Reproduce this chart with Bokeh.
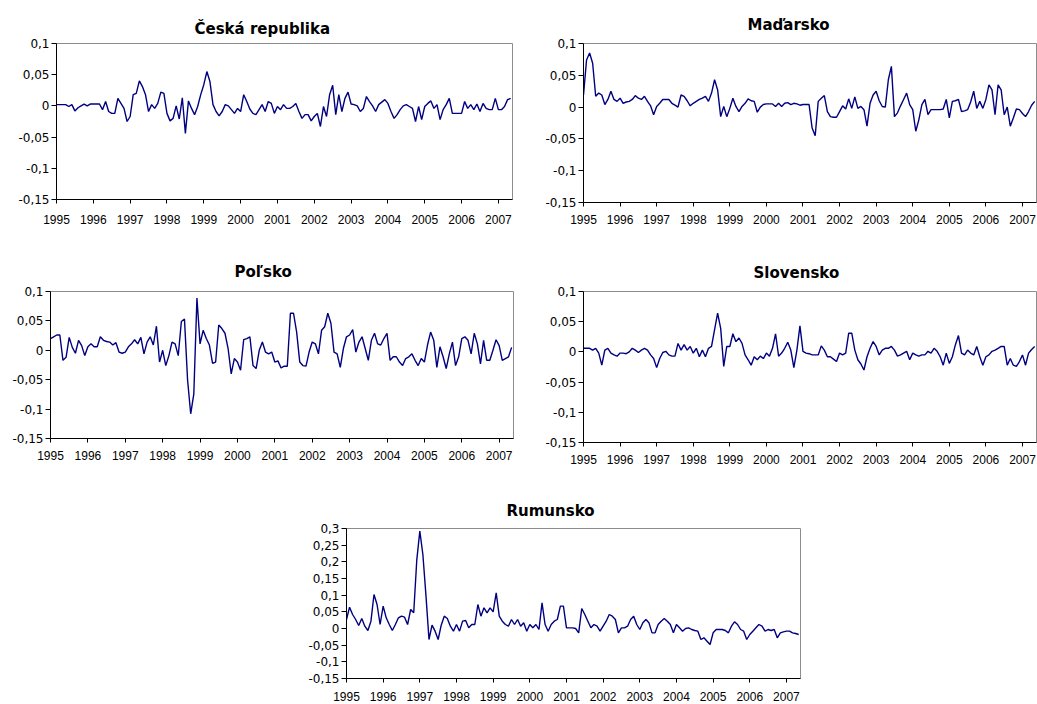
from bokeh.plotting import figure
from bokeh.layouts import column, row
from bokeh.models import FixedTicker, CustomJSTickFormatter, Range1d, Spacer
from bokeh.embed import file_html
from bokeh.resources import INLINE

# Monthly observations, January 1995 - May 2007
start_year = 1995
year_ticks = list(range(1995, 2008))

cz = [
    0.002, 0.002, 0.002, 0.002, -0.001, 0.002, -0.008, -0.003, 0.000, 0.003, 0.000, 0.003,
    0.003, 0.003, 0.003, -0.006, 0.007, -0.009, -0.012, -0.012, 0.012, 0.004, -0.004, -0.025,
    -0.017, 0.018, 0.020, 0.040, 0.031, 0.018, -0.009, 0.002, -0.004, 0.004, 0.022, 0.020,
    -0.012, -0.024, -0.020, 0.000, -0.021, 0.013, -0.044, 0.008, -0.004, -0.014, -0.001, 0.018,
    0.034, 0.055, 0.039, 0.002, -0.009, -0.016, -0.009, 0.002, 0.000, -0.006, -0.012, -0.004,
    -0.009, 0.018, 0.007, -0.005, -0.012, -0.014, -0.006, 0.002, -0.009, 0.007, 0.004, -0.012,
    -0.001, -0.006, 0.002, -0.004, -0.004, -0.001, 0.004, -0.009, -0.020, -0.014, -0.014, -0.024,
    -0.017, -0.012, -0.033, -0.001, -0.017, 0.018, 0.033, -0.014, 0.018, -0.009, 0.012, 0.022,
    0.003, 0.002, 0.000, -0.009, -0.004, 0.015, 0.007, 0.000, -0.009, 0.002, 0.006, 0.010,
    0.004, -0.009, -0.020, -0.014, -0.006, 0.000, 0.002, -0.001, -0.004, -0.025, -0.001, -0.022,
    -0.001, 0.004, 0.008, -0.004, 0.002, -0.022, -0.006, 0.002, 0.012, -0.012, -0.012, -0.012,
    -0.012, 0.007, -0.004, 0.002, -0.006, 0.003, -0.009, 0.004, -0.004, -0.006, -0.006, 0.012,
    -0.006, -0.006, -0.001, 0.010, 0.012,
]

hu = [
    0.019, 0.074, 0.085, 0.069, 0.017, 0.022, 0.019, 0.004, 0.012, 0.025, 0.012, 0.009,
    0.014, 0.006, 0.008, 0.009, 0.012, 0.018, 0.014, 0.012, 0.017, 0.009, 0.002, -0.012,
    0.001, 0.006, 0.012, 0.012, 0.012, 0.006, 0.003, 0.000, 0.019, 0.017, 0.010, 0.002,
    0.006, 0.009, 0.012, 0.014, 0.017, 0.009, 0.022, 0.043, 0.027, -0.015, 0.001, -0.015,
    -0.002, 0.014, 0.001, -0.007, 0.001, 0.006, 0.013, 0.010, 0.009, -0.008, 0.000, 0.004,
    0.005, 0.005, 0.005, 0.001, 0.006, 0.001, 0.006, 0.007, 0.004, 0.006, 0.005, 0.003,
    0.004, 0.004, 0.004, -0.033, -0.045, 0.009, 0.014, 0.018, -0.007, -0.015, -0.016, -0.016,
    -0.007, 0.002, -0.003, 0.013, -0.002, 0.016, -0.002, 0.001, -0.004, -0.030, 0.006, 0.019,
    0.025, 0.010, 0.001, 0.000, 0.043, 0.064, -0.015, -0.009, 0.002, 0.012, 0.022, 0.004,
    -0.004, -0.038, -0.020, 0.004, 0.012, -0.012, -0.004, -0.004, -0.004, -0.004, -0.003, 0.012,
    -0.017, 0.009, 0.010, 0.012, -0.007, -0.006, -0.004, 0.008, 0.025, -0.002, 0.009, -0.002,
    0.012, 0.035, 0.027, -0.012, 0.035, 0.027, -0.012, 0.000, -0.030, -0.017, -0.003, -0.004,
    -0.010, -0.015, -0.007, 0.003, 0.009,
]

pl = [
    0.020, 0.023, 0.026, 0.026, -0.017, -0.012, 0.022, 0.005, -0.005, 0.017, 0.008, -0.009,
    0.006, 0.011, 0.006, 0.006, 0.023, 0.017, 0.015, 0.014, 0.009, 0.013, -0.003, -0.005,
    -0.003, 0.006, 0.011, 0.018, 0.011, 0.022, -0.006, 0.014, 0.023, 0.009, 0.041, -0.020,
    0.000, -0.026, -0.009, 0.014, 0.011, -0.009, 0.049, 0.053, -0.051, -0.108, -0.074, 0.089,
    0.011, 0.034, 0.020, 0.009, -0.022, -0.020, 0.043, 0.037, 0.029, 0.003, -0.040, -0.014,
    -0.020, -0.034, 0.018, 0.020, 0.023, -0.026, -0.031, 0.000, 0.014, -0.003, -0.006, -0.003,
    -0.020, -0.018, -0.030, -0.027, -0.027, 0.063, 0.063, 0.031, -0.020, -0.026, -0.027, -0.003,
    0.014, 0.011, -0.006, 0.034, 0.040, 0.063, 0.046, -0.003, -0.006, -0.029, 0.003, 0.023,
    0.026, 0.035, -0.003, 0.014, 0.023, 0.003, -0.017, 0.017, 0.029, 0.011, 0.009, 0.020,
    0.029, -0.017, -0.011, -0.011, -0.020, -0.026, -0.014, -0.011, -0.006, -0.017, -0.026, -0.014,
    -0.020, 0.009, 0.031, 0.017, -0.029, 0.006, -0.011, -0.031, -0.006, 0.014, -0.026, -0.011,
    0.020, 0.023, 0.017, -0.006, 0.029, 0.011, -0.023, 0.017, -0.017, -0.017, 0.000, 0.018,
    0.008, -0.017, -0.014, -0.011, 0.005,
]

sk = [
    0.006, 0.006, 0.006, 0.003, 0.006, -0.002, -0.022, 0.003, 0.006, -0.002, -0.005, -0.007,
    -0.002, -0.002, -0.003, 0.000, 0.006, 0.003, -0.001, 0.003, 0.006, 0.003, -0.005, -0.011,
    -0.026, -0.011, -0.001, 0.001, -0.005, -0.007, -0.007, 0.014, 0.003, 0.012, 0.003, 0.009,
    -0.002, 0.006, -0.008, 0.003, -0.008, 0.006, 0.009, 0.037, 0.064, 0.039, -0.024, 0.009,
    0.009, 0.030, 0.017, 0.023, 0.014, -0.005, -0.013, -0.022, -0.008, -0.013, -0.007, -0.011,
    -0.002, -0.007, 0.006, 0.030, -0.007, -0.002, 0.006, 0.016, 0.003, -0.026, 0.003, 0.043,
    0.001, -0.002, -0.003, -0.005, -0.005, -0.005, 0.010, 0.003, -0.008, -0.008, -0.012, -0.016,
    -0.002, -0.005, -0.002, 0.031, 0.031, 0.003, -0.013, -0.020, -0.030, -0.008, 0.006, 0.017,
    0.009, -0.005, 0.003, 0.006, 0.006, 0.009, 0.003, -0.007, -0.005, -0.002, 0.001, -0.013,
    -0.002, -0.005, -0.007, -0.005, -0.005, 0.001, -0.002, 0.006, 0.001, -0.008, -0.022, -0.002,
    -0.019, -0.008, 0.012, 0.027, -0.002, -0.005, 0.003, -0.002, -0.005, 0.009, -0.008, -0.022,
    -0.008, -0.005, 0.001, 0.003, 0.006, 0.009, 0.009, -0.022, -0.011, -0.022, -0.024, -0.016,
    -0.005, -0.022, -0.002, 0.004, 0.009,
]

ro = [
    0.027, 0.064, 0.042, 0.027, 0.009, 0.030, 0.007, -0.006, 0.022, 0.102, 0.072, 0.012,
    0.067, 0.032, 0.012, -0.006, 0.012, 0.032, 0.037, 0.034, 0.012, 0.057, 0.047, 0.205,
    0.292, 0.222, 0.100, -0.033, 0.010, -0.008, -0.033, 0.010, 0.037, 0.030, 0.007, -0.008,
    0.012, -0.008, 0.022, 0.024, 0.002, 0.012, 0.012, 0.072, 0.037, 0.062, 0.047, 0.062,
    0.050, 0.107, 0.037, 0.022, 0.012, 0.007, 0.027, 0.012, 0.027, 0.007, 0.017, -0.008,
    0.012, 0.002, 0.012, -0.003, 0.077, 0.012, -0.008, 0.012, 0.022, 0.027, 0.067, 0.067,
    0.002, 0.002, 0.002, 0.000, -0.013, 0.060, 0.042, 0.022, 0.002, 0.012, 0.007, -0.008,
    0.007, 0.022, 0.042, 0.037, 0.027, -0.013, 0.002, 0.002, 0.007, 0.027, 0.037, 0.012,
    -0.003, 0.017, 0.027, 0.017, -0.013, -0.013, 0.012, 0.022, 0.030, 0.022, 0.012, -0.013,
    0.012, 0.002, -0.008, 0.000, 0.002, -0.003, -0.006, -0.008, -0.033, -0.028, -0.038, -0.048,
    -0.013, -0.003, -0.003, -0.003, -0.006, -0.013, 0.007, 0.020, 0.012, -0.003, -0.008, -0.033,
    -0.018, -0.008, 0.002, 0.012, 0.007, -0.008, -0.003, -0.006, -0.003, -0.028, -0.013, -0.010,
    -0.008, -0.008, -0.013, -0.015, -0.018,
]

LINE = "#000080"
YFMT = "const v = Math.round(tick * 100) / 100; return v.toString().replace('.', ',');"
XFMT = "return Math.round(tick).toString();"


def panel(title, values, y_lo, y_hi, fw, fh, left, right, top, bottom,
          t_standoff, t_offset, x_standoff):
    n = len(values)
    xs = [start_year + k / 12 for k in range(n)]
    p = figure(
        frame_width=fw, frame_height=fh,
        min_border_left=left, min_border_right=right,
        min_border_top=top, min_border_bottom=bottom,
        x_range=Range1d(start_year, start_year + (n - 0.4) / 12),
        y_range=Range1d(y_lo, y_hi),
        toolbar_location=None, output_backend="svg",
        title=title,
    )
    p.title.text_font = "DejaVu Sans"
    p.title.text_font_style = "bold"
    p.title.text_font_size = "15px"
    p.title.align = "left"
    p.title.standoff = t_standoff
    p.title.offset = t_offset
    p.title.text_color = "black"

    p.line(xs, values, line_color=LINE, line_width=1.4)

    p.xgrid.visible = False
    p.ygrid.visible = False
    p.background_fill_color = "white"
    p.border_fill_color = "white"
    p.outline_line_color = "#8c8c8c"
    p.outline_line_width = 1

    xa = p.xaxis[0]
    xa.ticker = FixedTicker(ticks=year_ticks)
    xa.formatter = CustomJSTickFormatter(code=XFMT)
    xa.major_label_text_font = "Liberation Sans"
    xa.major_label_text_font_size = "12px"
    xa.major_label_text_color = "black"
    xa.major_label_standoff = x_standoff
    xa.major_tick_in = 0
    xa.major_tick_out = 4
    xa.minor_tick_line_color = None
    xa.axis_line_color = "black"
    xa.major_tick_line_color = "black"

    ya = p.yaxis[0]
    ya.ticker = FixedTicker(ticks=[round(y_lo + 0.05 * k, 2)
                                   for k in range(int(round((y_hi - y_lo) / 0.05)) + 1)])
    ya.formatter = CustomJSTickFormatter(code=YFMT)
    ya.major_label_text_font = "DejaVu Sans"
    ya.major_label_text_font_size = "12px"
    ya.major_label_text_color = "black"
    ya.major_label_standoff = 2
    ya.major_tick_in = 0
    ya.major_tick_out = 5
    ya.minor_tick_line_color = None
    ya.axis_line_color = "black"
    ya.major_tick_line_color = "black"
    return p


p1 = panel("Česká republika", cz, -0.15, 0.1, 456, 156, 56, 8, 40, 49, 11, 138, 11)
p2 = panel("Maďarsko", hu, -0.15, 0.1, 453, 159, 63, 1, 43, 43, 19, 164, 8)
p3 = panel("Poľsko", pl, -0.15, 0.1, 463, 147, 50, 7, 46, 52, 21, 184, 8)
p4 = panel("Slovensko", sk, -0.15, 0.1, 453, 151, 63, 1, 44, 50, 19, 170, 8)
p5 = panel("Rumunsko", ro, -0.15, 0.3, 454, 150, 56, 10, 38, 26, 18, 160, 9)

layout = column(
    row(p1, p2),
    row(p3, p4),
    row(Spacer(width=290, height=10), p5),
)

open("out.html", "w").write(file_html(layout, INLINE))
